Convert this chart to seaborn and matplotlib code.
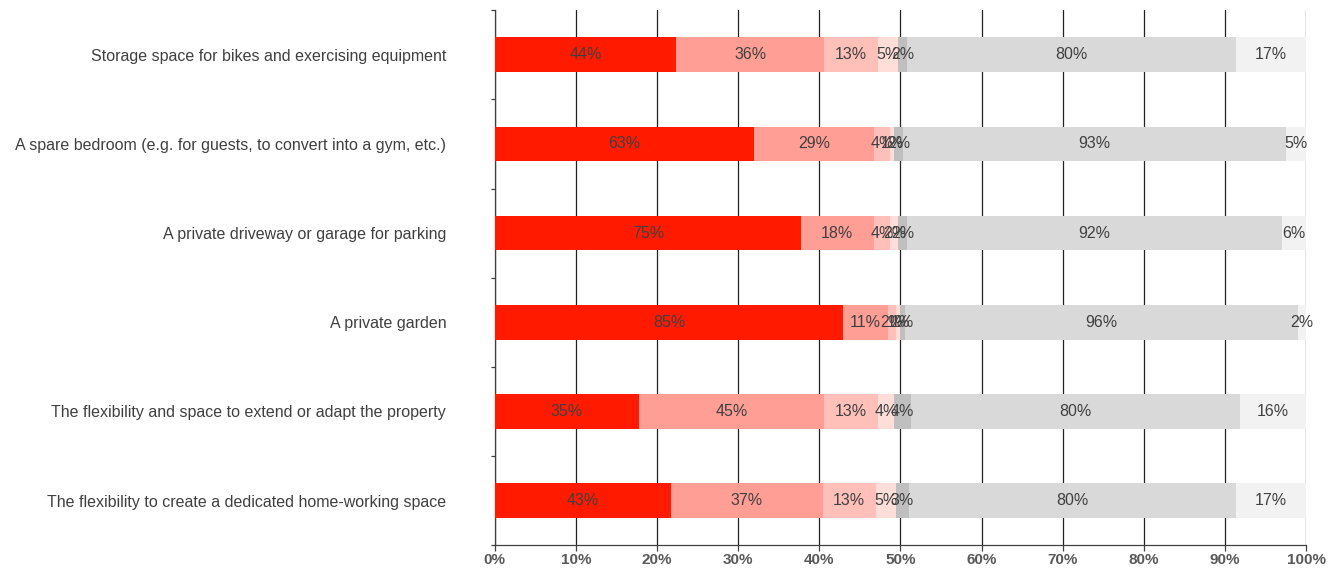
import numpy as np
import pandas as pd
import matplotlib
matplotlib.use("Agg")
import matplotlib.pyplot as plt
from matplotlib.ticker import FixedLocator, FuncFormatter
import seaborn as sns

# ---- data -------------------------------------------------------------
categories = [
    "Storage space for bikes and exercising equipment",
    "A spare bedroom (e.g. for guests, to convert into a gym, etc.)",
    "A private driveway or garage for parking",
    "A private garden",
    "The flexibility and space to extend or adapt the property",
    "The flexibility to create a dedicated home-working space",
]
very_important = [44, 63, 75, 85, 35, 43]
fairly_important = [36, 29, 18, 11, 45, 37]
not_very_important = [13, 4, 4, 2, 13, 13]
not_at_all_important = [5, 1, 2, 1, 4, 5]
dont_know = [2, 2, 2, 1, 4, 3]
have_now = [80, 93, 92, 96, 80, 80]
do_not_have = [17, 5, 6, 2, 16, 17]

series_names = ["very_important", "fairly_important", "not_very_important",
                "not_at_all_important", "dont_know", "have_now", "do_not_have"]
series_values = [very_important, fairly_important, not_very_important,
                 not_at_all_important, dont_know, have_now, do_not_have]
series_colors = ["#FF1A00", "#FF9E95", "#FFC0B9", "#FFDEDA",
                 "#BFBFBF", "#D9D9D9", "#F2F2F2"]
x_ticks = list(range(0, 101, 10))

# ---- table with 100%-stacked positions ---------------------------------
df = pd.DataFrame(dict(zip(series_names, series_values)), index=categories)
share = df.div(df.sum(axis=1), axis=0) * 100
right = share.cumsum(axis=1)
left = right - share

# ---- figure -------------------------------------------------------------
sns.set_theme(style="white")
plt.rcParams["font.family"] = ["Liberation Sans", "DejaVu Sans"]

fig = plt.figure(figsize=(13.41, 5.69), dpi=100)
ax = fig.add_axes([0.369, 0.042, 0.605, 0.940])

# draw from the outermost segment inwards so earlier layers sit on top
for name, color in reversed(list(zip(series_names, series_colors))):
    plot_df = pd.DataFrame({"category": categories, "end": right[name].values})
    sns.barplot(data=plot_df, x="end", y="category", orient="h", color=color,
                width=0.39, saturation=1, linewidth=0, ax=ax, zorder=3)

# value labels at the middle of every segment
for i, cat in enumerate(categories):
    for name in series_names:
        xc = (left.loc[cat, name] + right.loc[cat, name]) / 2
        ax.text(xc, i, f"{df.loc[cat, name]}%", ha="center", va="center",
                fontsize=11.5, color="#404040", zorder=5)

# ---- axes styling -------------------------------------------------------
ax.set_xlim(0, 100)
ax.set_ylim(len(categories) - 0.5, -0.5)
ax.set_xlabel("")
ax.set_ylabel("")

ax.xaxis.set_major_locator(FixedLocator(x_ticks))
ax.xaxis.set_major_formatter(FuncFormatter(lambda v, p: f"{v:.0f}%"))
ax.grid(axis="x", color="#222222", linewidth=0.9, zorder=0)
ax.grid(axis="y", visible=False)
ax.set_axisbelow(True)

for side in ["top", "right"]:
    ax.spines[side].set_visible(False)
for side in ["left", "bottom"]:
    ax.spines[side].set_visible(True)
    ax.spines[side].set_color("#404040")
    ax.spines[side].set_linewidth(0.9)

ax.tick_params(axis="x", which="major", bottom=True, length=4, width=0.9,
               color="#404040", labelsize=11, labelcolor="#595959", pad=2)
for lbl in ax.get_xticklabels():
    lbl.set_fontweight("bold")

ax.yaxis.set_minor_locator(FixedLocator(np.arange(-0.5, len(categories), 1)))
ax.tick_params(axis="y", which="major", left=False, length=0,
               labelsize=11.5, labelcolor="#404040", pad=35)
ax.tick_params(axis="y", which="minor", left=True, length=3, width=0.9,
               color="#404040")

fig.savefig("out.png", dpi=100, facecolor="white")
